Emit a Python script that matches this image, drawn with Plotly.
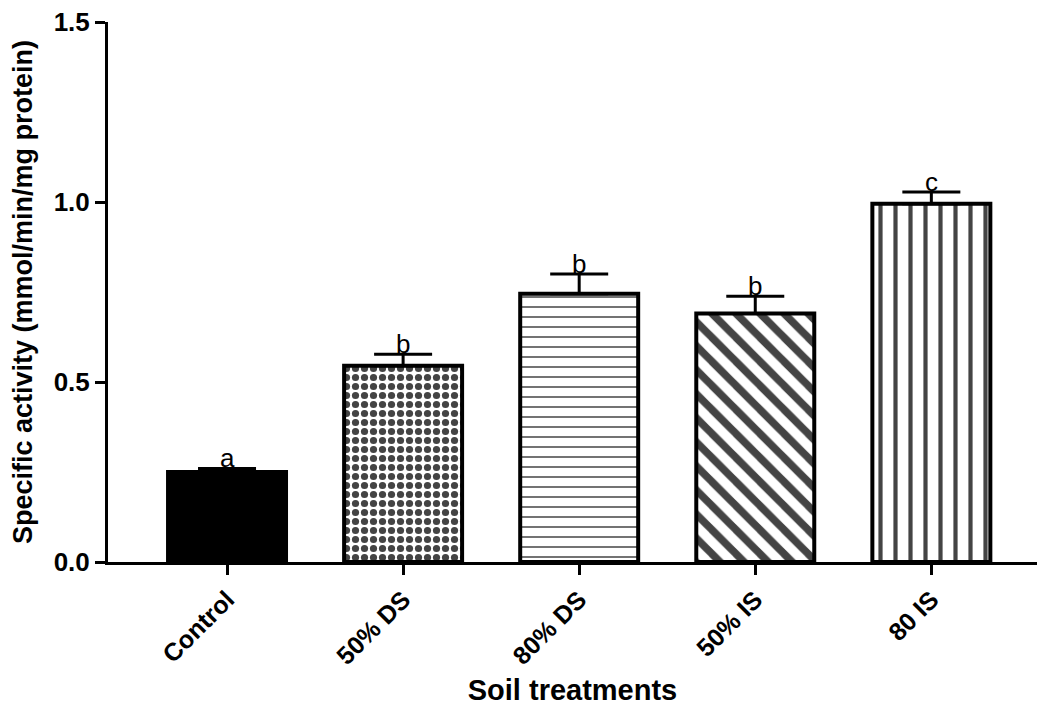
import plotly.graph_objects as go

categories = ["Control", "50% DS", "80% DS", "50% IS", "80 IS"]
values = [0.25, 0.545, 0.745, 0.69, 0.995]
errors = [0.01, 0.032, 0.055, 0.048, 0.033]
letters = ["a", "b", "b", "b", "c"]
y_tick_vals = [0.0, 0.5, 1.0, 1.5]
y_tick_text = ["0.0", "0.5", "1.0", "1.5"]

fill_colors = ["black", "white", "white", "white", "white"]
pattern_shapes = ["", ".", "-", "\\", "|"]
pattern_sizes = [8, 9, 10, 17, 15]
pattern_solidity = [0.3, 0.5, 0.15, 0.45, 0.28]

FONT = "Liberation Sans, Arial, Helvetica, sans-serif"

fig = go.Figure()
fig.add_trace(go.Bar(
    x=categories,
    y=values,
    width=0.67,
    marker=dict(
        color=fill_colors,
        line=dict(color="black", width=4),
        pattern=dict(
            shape=pattern_shapes,
            size=pattern_sizes,
            solidity=pattern_solidity,
            fgcolor="black",
            fgopacity=1,
            fillmode="overlay",
        ),
    ),
    error_y=dict(
        type="data",
        symmetric=False,
        array=errors,
        arrayminus=[0] * len(errors),
        color="black",
        thickness=3,
        width=29,
    ),
    showlegend=False,
))

for c, v, e, t in zip(categories, values, errors, letters):
    fig.add_annotation(
        x=c, y=v + e, text=t, showarrow=False,
        yanchor="bottom", yshift=-7,
        font=dict(family=FONT, size=26, color="black"),
    )

fig.update_layout(
    width=1037, height=706,
    margin=dict(l=108, r=0, t=22, b=144),
    plot_bgcolor="white", paper_bgcolor="white",
    font=dict(family=FONT, color="black"),
)

fig.update_xaxes(
    type="category",
    automargin=False,
    range=[-0.676, 4.6],
    showline=True, linecolor="black", linewidth=3,
    ticks="outside", ticklen=10, tickwidth=3, tickcolor="black",
    tickangle=-45,
    tickfont=dict(family=FONT, size=25, color="black", weight="bold"),
    title=dict(text="Soil treatments", standoff=22,
               font=dict(family=FONT, size=29, color="black", weight="bold")),
    showgrid=False, zeroline=False,
)
fig.update_yaxes(
    automargin=False,
    range=[0, 1.5],
    tickvals=y_tick_vals, ticktext=y_tick_text,
    showline=True, linecolor="black", linewidth=3,
    ticks="outside", ticklen=10, tickwidth=3, tickcolor="black",
    tickfont=dict(family=FONT, size=26, color="black", weight="bold"),
    title=dict(text="Specific activity (mmol/min/mg protein)", standoff=14,
               font=dict(family=FONT, size=27, color="black", weight="bold")),
    showgrid=False, zeroline=False,
)

fig.write_html("out.html")
